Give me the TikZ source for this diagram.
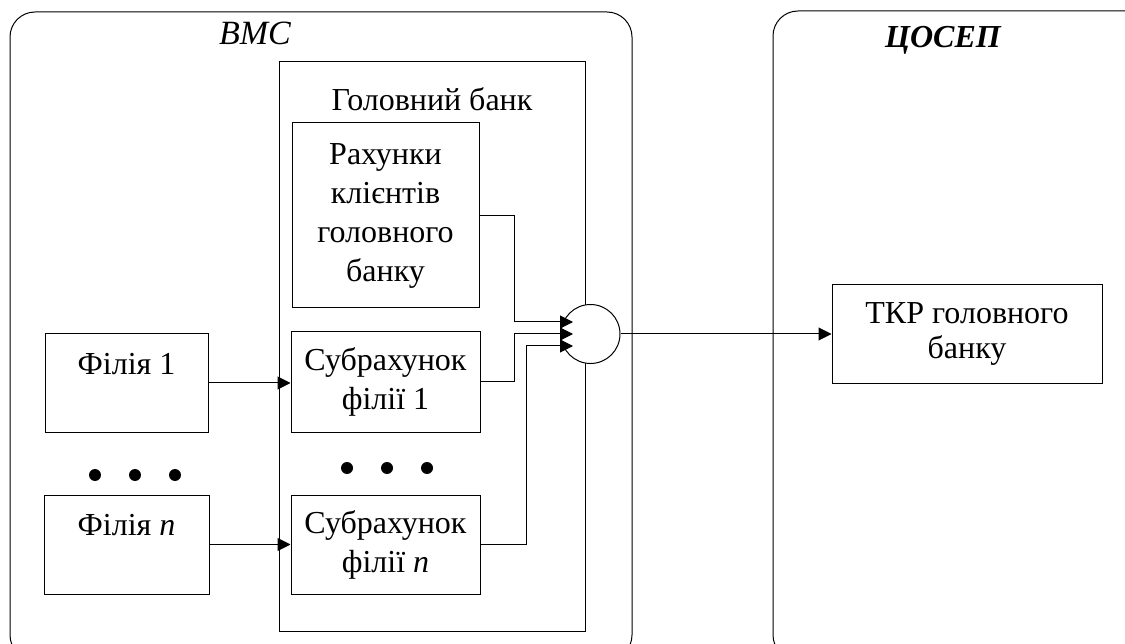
\documentclass[tikz,border=0pt]{standalone}
\usepackage{fontspec}
\setmainfont{Liberation Serif}
\usetikzlibrary{arrows.meta,calc}
\begin{document}
\begin{tikzpicture}[x=1pt,y=-1pt,
  box/.style={draw,line width=1pt,rectangle,inner sep=0pt,align=center,font=\fontsize{32}{39}\selectfont},
  lbl/.style={inner sep=0pt,font=\fontsize{32}{39}\selectfont},
  conn/.style={line width=1pt,-{Triangle[length=13pt,width=13pt]}},
  frame/.style={line width=1pt,rounded corners=25pt},
  dot/.style={circle,fill,inner sep=0pt,minimum size=12pt}
]
\useasboundingbox (0,0) rectangle (1125,644);
\clip (0,0) rectangle (1125,644);
% outer frames
\draw[frame] (10,12) rectangle (632,660);
\draw[frame] (773,11) rectangle (1150,660);
\node[lbl,anchor=base,font=\fontsize{34}{40}\selectfont\itshape] (tvms) at (255,45) {ВМС};
\node[lbl,anchor=base,font=\fontsize{32}{39}\selectfont\bfseries\itshape] (tcosep) at (943,48) {ЦОСЕП};
% head bank
\node[draw,line width=1pt,inner sep=0pt,minimum width=306pt,minimum height=569pt] (bank) at (432,346.5) {};
\node[lbl,anchor=base] (tbank) at (432,111) {Головний банк};
\node[box,minimum width=187pt,minimum height=185pt] (rah) at (385.5,215.5) {Рахунки\\клієнтів\\головного\\банку};
\node[box,minimum width=189pt,minimum height=100pt] (sub1) at (385.5,382) {Субрахунок\\філії 1};
\node[box,minimum width=189pt,minimum height=99pt] (subn) at (385.5,544.5) {Субрахунок\\філії \textit{n}};
% branches
\node[box,minimum width=163pt,minimum height=98pt] (fil1) at (126.5,383) {Філія 1\\\mbox{}};
\node[box,minimum width=165pt,minimum height=99pt] (filn) at (126.5,544.5) {Філія \textit{n}\\\mbox{}};
% dots
\node[dot] (d1) at (95,475) {};
\node[dot] (d2) at (135,475) {};
\node[dot] (d3) at (175,475) {};
\node[dot] (d4) at (347,468) {};
\node[dot] (d5) at (387,468) {};
\node[dot] (d6) at (427,468) {};
% summing circle
\node[draw,circle,line width=1pt,fill=white,inner sep=0pt,minimum size=59pt] (sum) at (590.5,334) {};
\coordinate (in1) at (573,322);
\coordinate (in2) at (573,334);
\coordinate (in3) at (573,346);
% TKR
\node[box,minimum width=270pt,minimum height=99pt,font=\fontsize{32}{35}\selectfont] (tkr) at (967,334) {ТКР головного\\банку};
% connectors
\draw[conn] (fil1.east) -- (fil1.east -| sub1.west);
\draw[conn] (filn.east) -- (filn.east -| subn.west);
\draw[conn] (rah.east) -| ($(in1)+(-59,0)$) -- (in1);
\draw[conn] (sub1.east) -| ($(in2)+(-59,0)$) -- (in2);
\draw[conn] (subn.east) -| ($(in3)+(-47,0)$) -- (in3);
\draw[conn] (sum.east) -- (tkr.west);
\end{tikzpicture}
\end{document}
